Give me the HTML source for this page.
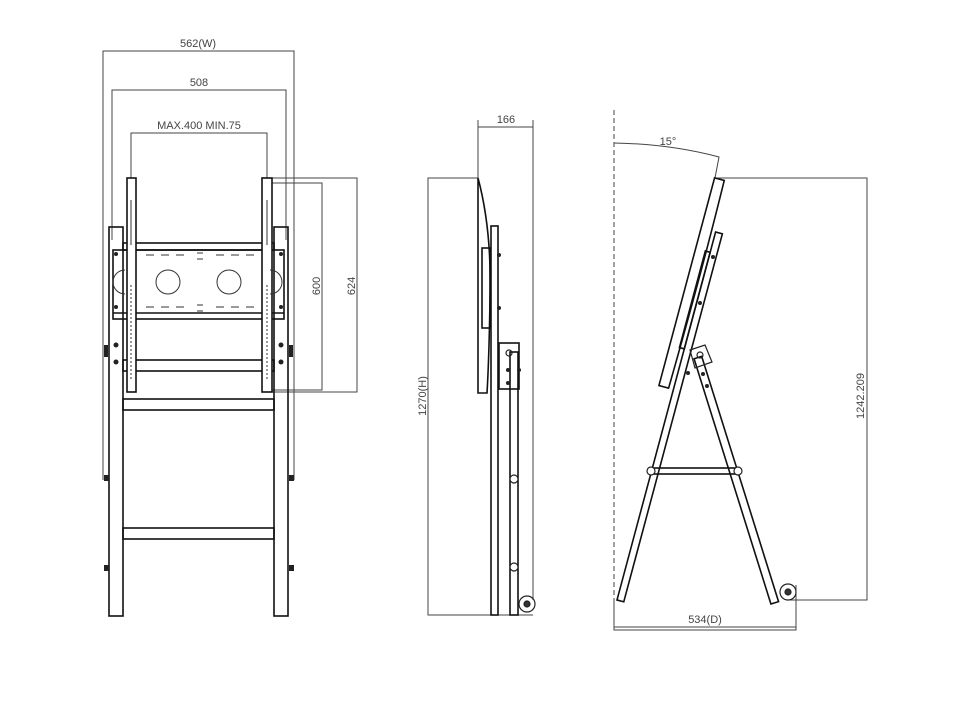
<!DOCTYPE html>
<html><head><meta charset="utf-8"><style>
html,body{margin:0;padding:0;background:#fff;}
svg{display:block;}
text{font-family:"Liberation Sans",sans-serif;font-size:11px;fill:#444;}
</style></head><body>
<svg width="960" height="720" viewBox="0 0 960 720" xmlns="http://www.w3.org/2000/svg">
<g fill="none" stroke="#444" stroke-width="1">
<polyline points="103,480 103,51 294,51 294,480"/>
<polyline points="112,240 112,90 286,90 286,240"/>
<polyline points="131,178 131,133 267,133 267,178"/>
<polyline points="272,183 322,183 322,390 272,390"/>
<polyline points="272,178 357,178 357,392 272,392"/>
</g>
<text x="198" y="47" text-anchor="middle">562(W)</text>
<text x="199" y="86" text-anchor="middle">508</text>
<text x="199" y="129" text-anchor="middle">MAX.400  MIN.75</text>
<text transform="translate(320,286) rotate(-90)" text-anchor="middle">600</text>
<text transform="translate(355,286) rotate(-90)" text-anchor="middle">624</text>

<g fill="none" stroke="#111" stroke-width="1.6">
<rect x="109" y="227" width="14" height="389"/>
<rect x="274" y="227" width="14" height="389"/>
<rect x="123" y="243" width="151" height="7"/>
<rect x="113" y="250" width="171" height="69"/>
<line x1="113" y1="313" x2="284" y2="313"/>
<rect x="123" y="360" width="151" height="11"/>
<rect x="123" y="399" width="151" height="11"/>
<rect x="123" y="528" width="151" height="11"/>
<rect x="127" y="178" width="9" height="214" fill="#fff"/>
<rect x="262" y="178" width="10" height="214" fill="#fff"/>
</g>
<g fill="none" stroke="#333" stroke-width="1">
<circle cx="168" cy="282" r="12"/><circle cx="229" cy="282" r="12"/>
<path d="M125 270 A12 12 0 0 0 125 294"/><path d="M270 270 A12 12 0 0 1 270 294"/>
<path d="M146 255h8M161 255h8M176 255h8M216 255h8M231 255h8M246 255h8M146 307h8M161 307h8M176 307h8M216 307h8M231 307h8M246 307h8M197 253h6M197 259h6M197 305h6M197 311h6"/>
<line x1="131" y1="200" x2="131" y2="245"/><line x1="267" y1="200" x2="267" y2="245"/>
<line x1="131" y1="285" x2="131" y2="380" stroke-dasharray="2 2"/><line x1="267" y1="285" x2="267" y2="380" stroke-dasharray="2 2"/>
</g>
<g fill="#222">
<circle cx="116" cy="254" r="2"/><circle cx="281" cy="254" r="2"/><circle cx="116" cy="307" r="2"/><circle cx="281" cy="307" r="2"/>
<circle cx="116" cy="345" r="2.5"/><circle cx="116" cy="362" r="2.5"/><circle cx="281" cy="345" r="2.5"/><circle cx="281" cy="362" r="2.5"/>
<rect x="104" y="475" width="5" height="6"/><rect x="289" y="475" width="5" height="6"/>
<rect x="104" y="565" width="5" height="6"/><rect x="289" y="565" width="5" height="6"/>
<rect x="104" y="345" width="4" height="12"/><rect x="289" y="345" width="4" height="12"/>
</g>

<!-- SIDE VIEW -->
<g fill="none" stroke="#444" stroke-width="1">
<polyline points="478,120 478,178 428,178 428,615 533,615"/>
<polyline points="533,120 533,600"/>
<line x1="478" y1="127" x2="533" y2="127"/>
</g>
<text x="506" y="123" text-anchor="middle">166</text>
<text transform="translate(426,396) rotate(-90)" text-anchor="middle">1270(H)</text>
<g fill="none" stroke="#111" stroke-width="1.6">
<path d="M478 178 Q492 230 490 300 Q489 360 487 393 L478 393 Z"/>
<rect x="491" y="226" width="7" height="389"/>
<rect x="482" y="248" width="8" height="80"/>
<rect x="510" y="352" width="8" height="263"/>
<rect x="499" y="343" width="20" height="46"/>
</g>
<g fill="none" stroke="#222" stroke-width="1.2">
<circle cx="514" cy="479" r="4" fill="#fff"/><circle cx="514" cy="567" r="4" fill="#fff"/>
<circle cx="509" cy="353" r="3"/>
<circle cx="527" cy="604" r="8"/><circle cx="527" cy="604" r="3" fill="#333"/>
</g>
<g fill="#222"><circle cx="499" cy="255" r="2"/><circle cx="499" cy="308" r="2"/><circle cx="508" cy="370" r="2"/><circle cx="508" cy="383" r="2"/><circle cx="519" cy="370" r="2"/></g>

<!-- ANGLED VIEW -->
<g fill="none" stroke="#444" stroke-width="1">
<line x1="614" y1="110" x2="614" y2="600" stroke-dasharray="5 3"/>
<path d="M614 143 Q670 144 719 157 L715 178"/>
<polyline points="715,178 867,178 867,600 790,600"/>
<polyline points="614,600 614,630 796,630 796,585"/>
<line x1="614" y1="627" x2="796" y2="627"/>
</g>
<text x="668" y="145" text-anchor="middle">15°</text>
<text x="705" y="623" text-anchor="middle">534(D)</text>
<text transform="translate(864,396) rotate(-90)" text-anchor="middle">1242.209</text>
<g fill="none" stroke="#111" stroke-width="1.6">
<g transform="rotate(15 617 600)">
<rect x="617" y="219" width="7" height="381"/>
<rect x="612" y="240" width="5" height="100"/>
<path d="M602 167 L612 167 Q614 260 612 382 L602 382 Z"/>
</g>
<g transform="rotate(-17.4 777 600)">
<rect x="770" y="345" width="8" height="257"/>
</g>
<rect x="651" y="468" width="87" height="6"/>
</g>
<g fill="none" stroke="#222" stroke-width="1.2">
<circle cx="651" cy="471" r="4" fill="#fff"/><circle cx="738" cy="471" r="4" fill="#fff"/>
<circle cx="700" cy="355" r="3"/>
<path d="M690 350 L705 345 L712 362 L695 368 Z"/>
<circle cx="788" cy="592" r="8"/><circle cx="788" cy="592" r="3" fill="#333"/>
</g>
<g fill="#222"><circle cx="713" cy="257" r="2"/><circle cx="700" cy="303" r="2"/><circle cx="688" cy="373" r="2"/><circle cx="703" cy="374" r="2"/><circle cx="707" cy="386" r="2"/></g>
</svg>
</body></html>
